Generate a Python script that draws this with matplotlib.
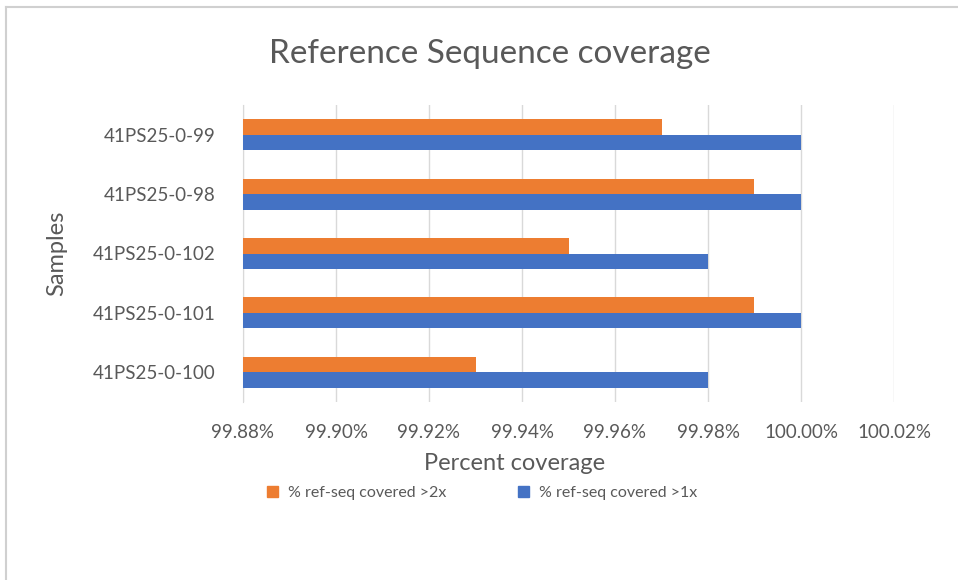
import matplotlib
matplotlib.use("Agg")
import matplotlib.pyplot as plt
import numpy as np
from matplotlib.lines import Line2D
from matplotlib.patches import Patch

plt.rcParams['font.family'] = ['Lato', 'DejaVu Sans']

samples = ["41PS25-0-100", "41PS25-0-101", "41PS25-0-102", "41PS25-0-98", "41PS25-0-99"]
covered_2x = [99.93, 99.99, 99.95, 99.99, 99.97]
covered_1x = [99.98, 100.00, 99.98, 100.00, 100.00]
series_names = ["% ref-seq covered >2x", "% ref-seq covered >1x"]
xticks = [99.88, 99.90, 99.92, 99.94, 99.96, 99.98, 100.00, 100.02]

orange = "#ED7D31"
blue = "#4472C4"
text_c = "#595959"
grid_c = "#D9D9D9"

fig = plt.figure(figsize=(9.58, 5.8), dpi=100)
ax = fig.add_axes([243/958, (580-402)/580, (894-243)/958, (402-105)/580])

y = np.arange(len(samples))
h = 0.26
ax.barh(y + h/2, covered_2x, height=h, color=orange, zorder=3)
ax.barh(y - h/2, covered_1x, height=h, color=blue, zorder=3)
ax.set_xlim(99.88, 100.02)
ax.set_ylim(-0.5, len(samples) - 0.5)
ax.set_xticks(xticks)
ax.set_xticklabels([f"{v:.2f}%" for v in xticks])
ax.set_yticks(y)
ax.set_yticklabels(samples)
ax.grid(axis='x', color=grid_c, linewidth=1, zorder=0)
for s in ['top', 'right', 'bottom']:
    ax.spines[s].set_visible(False)
ax.spines['left'].set_color(grid_c)
ax.tick_params(axis='both', length=0, colors=text_c, labelsize=13.5)
ax.tick_params(axis='x', pad=16)
ax.tick_params(axis='y', pad=20)

fig.text(0.511, 1 - 63/580, "Reference Sequence coverage", ha='center', va='baseline',
         fontsize=24, color=text_c)
fig.text(515/958, 1 - 463/580, "Percent coverage", ha='center', va='center',
         fontsize=17, color=text_c)
fig.text(57/958, 1 - 253/580, "Samples", ha='center', va='center', rotation=90,
         fontsize=17, color=text_c)

handles = [Patch(color=orange), Patch(color=blue)]
fig.legend(handles, series_names, loc='center', bbox_to_anchor=(482/958, 1 - 493/580),
           ncol=2, frameon=False, fontsize=11.5, labelcolor=text_c,
           handlelength=0.7, handleheight=0.7, columnspacing=4.5, handletextpad=0.6)

# outer chart border (top and left visible)
fig.add_artist(Line2D([6/958, 1], [1 - 7/580, 1 - 7/580], color="#D0D0D0", linewidth=1.5))
fig.add_artist(Line2D([6/958, 6/958], [0, 1 - 7/580], color="#D0D0D0", linewidth=1.5))

fig.savefig("out.png", dpi=100)
